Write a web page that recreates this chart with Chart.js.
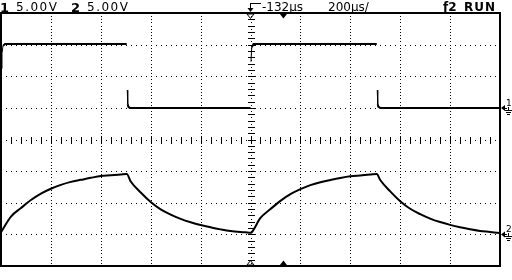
<!DOCTYPE html>
<html>
<head>
<meta charset="utf-8">
<script src="https://cdn.jsdelivr.net/npm/chart.js@4/dist/chart.umd.min.js"></script>
<style>
  html, body { margin: 0; padding: 0; background: #fff; }
  #scope { display: block; }
</style>
</head>
<body>
<canvas id="scope" width="512" height="280"></canvas>
<script>
// scope settings
const usPerDiv = 200;
const voltsPerDiv = 5;
const ch1Offset = 1;    // ground marker, divisions above centre
const ch2Offset = -3;
const triggerDelay = -132;

// channel 1: square wave (time in µs, volts)
const ch1Time  = [0, 4, 8, 16, 504, 506, 508, 510, 516, 1000, 1002, 1005, 1012, 1506, 1508, 1510, 1512, 1520, 2000];
const ch1Volts = [6.2, 8.6, 9.8, 10.1, 10.1, 2.8, 0.6, 0.2, 0, 0, 7.3, 9.6, 10.1, 10.1, 2.8, 0.6, 0.2, 0, 0];

// channel 2: capacitor voltage
const ch2Time  = [0, 40, 80, 120, 160, 200, 240, 280, 320, 360, 400, 440, 480, 504,
                  520, 560, 600, 640, 680, 720, 760, 800, 840, 880, 920, 980, 1000,
                  1004, 1040, 1080, 1120, 1160, 1200, 1240, 1280, 1320, 1360, 1400, 1440, 1480, 1506,
                  1520, 1560, 1600, 1640, 1680, 1720, 1760, 1800, 1840, 1880, 1920, 1960, 2000];
const ch2Volts = [0.36, 2.82, 4.16, 5.43, 6.45, 7.21, 7.83, 8.3, 8.62, 8.94, 9.22, 9.33, 9.46, 9.54,
                  8.35, 6.61, 5.11, 3.95, 3.13, 2.45, 1.91, 1.47, 1.12, 0.79, 0.52, 0.32, 0.25,
                  0.3, 2.6, 4.0, 5.3, 6.35, 7.15, 7.78, 8.25, 8.6, 8.92, 9.18, 9.32, 9.45, 9.55,
                  8.6, 6.8, 5.25, 4.05, 3.2, 2.5, 1.95, 1.5, 1.12, 0.8, 0.55, 0.38, 0.2];

const toDiv = (times, volts, offset) => times.map((t, i) => ({ x: t, y: volts[i] / voltsPerDiv + offset }));

const edgeColor = c => Math.abs(c.p1.parsed.y - c.p0.parsed.y) > 0.8 ? 'rgba(0,0,0,0)' : '#000';
const edgeWidth = c => Math.abs(c.p1.parsed.y - c.p0.parsed.y) > 0.2 ? 1 : 2;

function dot(ctx, x, y) {
  ctx.fillRect(Math.round(x), Math.round(y), 1, 1);
}

function triangle(ctx, x, y, down, filled) {
  ctx.beginPath();
  if (down) {
    ctx.moveTo(x - 3.5, y); ctx.lineTo(x + 3.5, y); ctx.lineTo(x, y + 4.5);
  } else {
    ctx.moveTo(x - 3.5, y); ctx.lineTo(x + 3.5, y); ctx.lineTo(x, y - 4.5);
  }
  ctx.closePath();
  if (filled) ctx.fill(); else ctx.stroke();
}

function groundMarker(ctx, right, y0, label) {
  ctx.beginPath();
  ctx.moveTo(right + 1, y0); ctx.lineTo(right + 5, y0 - 3); ctx.lineTo(right + 5, y0 + 3);
  ctx.closePath();
  ctx.fill();
  ctx.fillRect(right + 5, Math.round(y0), 2, 1);
  ctx.font = '9px "DejaVu Sans"';
  ctx.textAlign = 'left';
  ctx.textBaseline = 'alphabetic';
  ctx.fillText(label, right + 6, y0 - 2);
  ctx.fillRect(right + 8, Math.round(y0) - 1, 1, 3);
  ctx.fillRect(right + 5, Math.round(y0) + 2, 7, 1);
  ctx.fillRect(right + 6, Math.round(y0) + 4, 5, 1);
  ctx.fillRect(right + 7, Math.round(y0) + 6, 3, 1);
}

const scopeDecor = {
  id: 'scopeDecor',
  beforeDatasetsDraw(chart) {
    const { ctx, scales: { x, y } } = chart;
    ctx.save();
    ctx.fillStyle = '#000';
    // dotted graticule
    for (let d = 1; d < 10; d++) {
      if (d === 5) continue;
      const px = x.getPixelForValue(d * usPerDiv);
      for (let k = -39; k <= 39; k++) dot(ctx, px, y.getPixelForValue(k / 10));
    }
    for (let d = -3; d <= 3; d++) {
      if (d === 0) continue;
      const py = y.getPixelForValue(d);
      for (let k = 1; k < 100; k++) dot(ctx, x.getPixelForValue(k * usPerDiv / 10), py);
    }
    // centre axes with minor ticks
    const cx = Math.round(x.getPixelForValue(5 * usPerDiv));
    const cy = Math.round(y.getPixelForValue(0));
    for (let k = 1; k < 100; k++) {
      const px = Math.round(x.getPixelForValue(k * usPerDiv / 10));
      if (k % 2 === 0) ctx.fillRect(px, cy - 3, 1, 7); else ctx.fillRect(px, cy, 1, 1);
    }
    for (let k = -39; k <= 39; k++) {
      const py = Math.round(y.getPixelForValue(k / 10));
      if (k % 2 === 0) ctx.fillRect(cx - 3, py, 7, 1); else ctx.fillRect(cx, py, 1, 1);
    }
    ctx.restore();
  },
  afterDraw(chart) {
    const { ctx, chartArea: a, scales: { x, y } } = chart;
    ctx.save();
    ctx.fillStyle = '#000';
    ctx.strokeStyle = '#000';
    // frame
    ctx.lineWidth = 2;
    ctx.strokeRect(a.left, a.top, a.right - a.left, a.bottom - a.top);

    // markers: time reference (hollow) and trigger point (filled)
    ctx.lineWidth = 1;
    const cx = x.getPixelForValue(5 * usPerDiv);
    const tx = x.getPixelForValue(5 * usPerDiv - triggerDelay);
    triangle(ctx, cx, a.top + 1, true, false);
    triangle(ctx, cx, a.bottom - 1, false, false);
    triangle(ctx, tx, a.top + 1, true, true);
    triangle(ctx, tx, a.bottom - 1, false, true);

    // channel ground markers
    groundMarker(ctx, a.right, y.getPixelForValue(ch1Offset), '1');
    groundMarker(ctx, a.right, y.getPixelForValue(ch2Offset), '2');

    // status line
    ctx.textBaseline = 'alphabetic';
    ctx.textAlign = 'left';
    ctx.font = 'bold 13px "DejaVu Sans"';
    ctx.fillText('1', 0, 12);
    ctx.fillText('2', 71, 12);
    ctx.font = '12px "DejaVu Sans"';
    ctx.letterSpacing = '1.5px';
    ctx.fillText('5.00V', 16, 11);
    ctx.fillText('5.00V', 87, 11);
    ctx.letterSpacing = '0px';
    // trigger level glyph
    ctx.fillRect(250, 3, 11, 1);
    ctx.fillRect(250, 3, 1, 8);
    ctx.beginPath();
    ctx.moveTo(247.5, 8); ctx.lineTo(253.5, 8); ctx.lineTo(250.5, 12);
    ctx.closePath();
    ctx.fill();
    ctx.fillText('-132µs', 262, 11);
    ctx.fillText('200µs/', 328, 11);
    ctx.font = 'bold 12px "DejaVu Sans"';
    ctx.fillText('ƒ2', 443, 11);
    ctx.letterSpacing = '1px';
    ctx.fillText('RUN', 464, 11);
    ctx.restore();
  }
};

new Chart(document.getElementById('scope'), {
  type: 'line',
  data: {
    datasets: [
      {
        label: 'Channel 1',
        data: toDiv(ch1Time, ch1Volts, ch1Offset),
        borderColor: '#000',
        borderWidth: 2,
        pointRadius: 0,
        tension: 0,
        segment: { borderColor: edgeColor, borderWidth: edgeWidth }
      },
      {
        label: 'Channel 2',
        data: toDiv(ch2Time, ch2Volts, ch2Offset),
        borderColor: '#000',
        borderWidth: 2,
        pointRadius: 0,
        cubicInterpolationMode: 'monotone'
      }
    ]
  },
  options: {
    responsive: false,
    animation: false,
    events: [],
    layout: { padding: { left: 1, top: 13, right: 12, bottom: 14 } },
    plugins: { legend: { display: false }, tooltip: { enabled: false } },
    scales: {
      x: { type: 'linear', min: 0, max: 10 * usPerDiv, display: false },
      y: { type: 'linear', min: -4, max: 4, display: false }
    }
  },
  plugins: [scopeDecor]
});
</script>
</body>
</html>
